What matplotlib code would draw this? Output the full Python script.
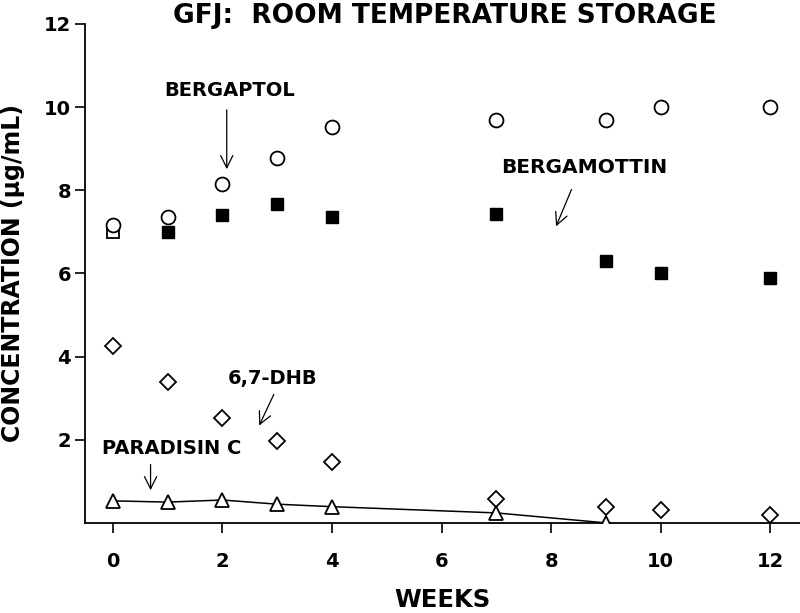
import matplotlib
matplotlib.use("Agg")
import matplotlib.pyplot as plt

plt.rcParams['font.family'] = ['DejaVu Sans']

weeks = [0, 1, 2, 3, 4, 7, 9, 10, 12]
bergaptol = [7.16, 7.36, 8.15, 8.77, 9.52, 9.70, 9.70, 10.0, 10.0]
bergamottin = [7.0, 7.0, 7.4, 7.66, 7.36, 7.44, 6.3, 6.0, 5.9]
dhb = [4.26, 3.38, 2.52, 1.97, 1.47, 0.58, 0.39, 0.30, 0.20]
par_weeks = [0, 1, 2, 3, 4, 7, 9]
paradisin = [0.53, 0.50, 0.55, 0.45, 0.39, 0.24, 0.0]

xticks = [0, 2, 4, 6, 8, 10, 12]
yticks = [2, 4, 6, 8, 10, 12]

fig = plt.figure(figsize=(8, 6.13), dpi=100)
ax = fig.add_axes([0.106, 0.147, 0.894, 0.814])

ax.plot(weeks, bergaptol, 'o', ms=10, mfc='white', mec='black', mew=1.3, ls='none', zorder=3)
ax.plot(weeks[1:], bergamottin[1:], 's', ms=8.5, mfc='black', mec='black', ls='none', zorder=3)
ax.plot(weeks[:1], bergamottin[:1], 's', ms=8.5, mfc='white', mec='black', mew=1.3, ls='none', zorder=2)
ax.plot(weeks, dhb, 'D', ms=8.5, mfc='white', mec='black', mew=1.3, ls='none', zorder=3)
ax.plot(par_weeks, paradisin, '-^', color='black', lw=1.1, ms=9.5, mfc='white', mec='black', mew=1.3, zorder=3)

ax.set_xlim(-0.51, 12.54)
ax.set_ylim(0, 12)
ax.set_xticks(xticks)
ax.set_yticks(yticks)
for lab in ax.get_xticklabels() + ax.get_yticklabels():
    lab.set_fontweight('bold')
    lab.set_fontsize(14)
ax.tick_params(direction='out', length=7, width=1.2)
ax.tick_params(axis='x', pad=14)
ax.tick_params(axis='y', pad=3)
ax.spines['top'].set_visible(False)
ax.spines['right'].set_visible(False)
ax.spines['left'].set_linewidth(1.3)
ax.spines['bottom'].set_linewidth(1.3)

fig.text(0.553, 0.022, 'WEEKS', ha='center', va='center', fontsize=17.5, fontweight='bold')
fig.text(0.016, 0.554, 'CONCENTRATION (µg/mL)', ha='center', va='center', rotation=90,
         fontsize=17, fontweight='bold')
fig.text(0.556, 0.963, 'GFJ:  ROOM TEMPERATURE STORAGE', ha='center', va='baseline',
         fontsize=19, fontweight='bold')

ap = dict(arrowstyle='->', color='black', lw=0.9, mutation_scale=22)
ax.annotate('', xy=(2.08, 8.44), xytext=(2.08, 10.0), arrowprops=ap)
ax.text(2.14, 10.4, 'BERGAPTOL', ha='center', va='center', fontsize=14, fontweight='bold')
ax.annotate('', xy=(8.07, 7.07), xytext=(8.39, 8.08), arrowprops=ap)
ax.text(8.6, 8.54, 'BERGAMOTTIN', ha='center', va='center', fontsize=14.5, fontweight='bold')
ax.annotate('', xy=(2.65, 2.28), xytext=(2.96, 3.15), arrowprops=ap)
ax.text(2.91, 3.48, '6,7-DHB', ha='center', va='center', fontsize=14, fontweight='bold')
ax.annotate('', xy=(0.69, 0.72), xytext=(0.69, 1.47), arrowprops=ap)
ax.text(1.07, 1.8, 'PARADISIN C', ha='center', va='center', fontsize=14, fontweight='bold')

fig.savefig('out.png', dpi=100)
